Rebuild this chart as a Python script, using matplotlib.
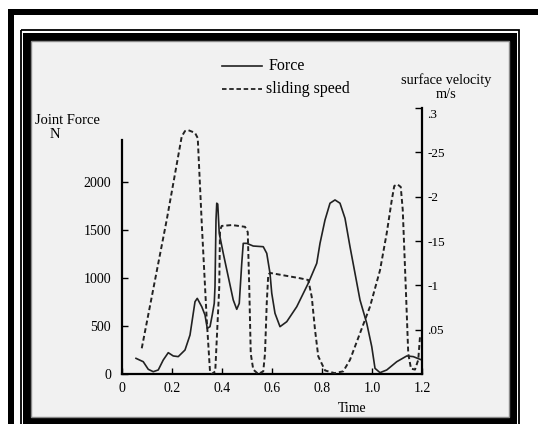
import matplotlib
matplotlib.use("Agg")
import matplotlib.pyplot as plt
import matplotlib.transforms as mtransforms
from matplotlib.patches import Rectangle

plt.rcParams['font.family'] = ['Liberation Serif', 'DejaVu Serif']

# force curve (N) vs time (s)
force_t = [0.056, 0.085, 0.105, 0.125, 0.145, 0.165, 0.185, 0.205, 0.225, 0.252,
           0.272, 0.292, 0.301, 0.319, 0.332, 0.341, 0.352, 0.361, 0.369, 0.372,
           0.376, 0.379, 0.383, 0.389, 0.405, 0.425, 0.445, 0.459, 0.469, 0.479,
           0.485, 0.499, 0.525, 0.565, 0.579, 0.592, 0.599, 0.612, 0.632, 0.659,
           0.699, 0.745, 0.779, 0.792, 0.812, 0.832, 0.852, 0.872, 0.892, 0.912,
           0.932, 0.952, 0.979, 0.999, 1.012, 1.032, 1.059, 1.099, 1.139, 1.165,
           1.199]
force_val = [163, 128, 49, 24, 42, 146, 222, 188, 181, 250,
             406, 753, 788, 701, 615, 476, 493, 615, 736, 910,
             1604, 1779, 1770, 1466, 1257, 1014, 771, 674, 736, 1153,
             1361, 1361, 1333, 1326, 1257, 1049, 841, 632, 493, 545,
             701, 945, 1153, 1361, 1604, 1779, 1813, 1779, 1622, 1326,
             1049, 771, 528, 285, 59, 14, 42, 128, 188, 181,
             146]

# sliding speed (m/s) vs time (s)
speed_t = [0.079, 0.179, 0.239, 0.252, 0.265, 0.292, 0.303, 0.319, 0.339, 0.352,
           0.360, 0.373, 0.389, 0.392, 0.399, 0.440, 0.492, 0.503, 0.509, 0.515,
           0.525, 0.545, 0.565, 0.572, 0.579, 0.585, 0.592, 0.712, 0.745, 0.759,
           0.772, 0.785, 0.812, 0.850, 0.885, 0.912, 0.952, 0.992, 1.032, 1.059,
           1.079, 1.089, 1.101, 1.115, 1.123, 1.136, 1.145, 1.156, 1.172, 1.185,
           1.192]
speed_val = [0.029, 0.174, 0.268, 0.274, 0.275, 0.272, 0.266, 0.170, 0.061, 0.003,
             0.000, 0.003, 0.098, 0.162, 0.167, 0.168, 0.166, 0.160, 0.098, 0.023,
             0.005, 0.000, 0.003, 0.023, 0.080, 0.112, 0.114, 0.108, 0.106, 0.087,
             0.050, 0.020, 0.004, 0.001, 0.003, 0.016, 0.046, 0.076, 0.117, 0.159,
             0.196, 0.212, 0.214, 0.211, 0.185, 0.091, 0.023, 0.006, 0.005, 0.016,
             0.042]

x_ticks = [0, 0.2, 0.4, 0.6, 0.8, 1.0, 1.2]
x_labels = ['0', '0.2', '0.4', '0.6', '0.8', '1.0', '1.2']
force_ticks = [0, 500, 1000, 1500, 2000]
speed_ticks = [0.05, 0.1, 0.15, 0.2, 0.25, 0.3]
speed_labels = ['.05', '-1', '-15', '-2', '-25', '.3']

W, H = 538, 424
fig = plt.figure(figsize=(W / 100, H / 100), dpi=100)
fig.patch.set_facecolor('white')

# frame drawn in pixel coords
bg = fig.add_axes([0, 0, 1, 1], zorder=0)
bg.set_xlim(0, W)
bg.set_ylim(H, 0)
bg.axis('off')
bg.add_patch(Rectangle((8, 9), W - 8, 6, color='black', lw=0))
bg.add_patch(Rectangle((8, 9), 6, H, color='black', lw=0))
bg.add_patch(Rectangle((20.5, 30), 498.5, H, fill=False, ec='black', lw=1.3))
bg.add_patch(Rectangle((23, 33), 494, H, color='black', lw=0))
bg.add_patch(Rectangle((31, 41), 478, 376, fc='#f1f1f1', ec='#8a8a8a', lw=1.0))

# legend
bg.plot([222, 262], [66, 66], color='#222222', lw=1.2)
bg.text(269, 66, 'Force', fontsize=11.5, va='center', ha='left')
bg.plot([222, 262], [89, 89], color='#222222', lw=1.3, dashes=(2.5, 1.5))
bg.text(266, 89, 'sliding speed', fontsize=11.5, va='center', ha='left')

bg.text(67, 120, 'Joint Force', fontsize=10.5, va='center', ha='center')
bg.text(55, 134, 'N', fontsize=10.5, va='center', ha='center')
bg.text(446, 80, 'surface velocity', fontsize=10.3, va='center', ha='center')
bg.text(446, 95, 'm/s', fontsize=10.3, va='center', ha='center')
bg.text(352, 408, 'Time', fontsize=10, va='center', ha='center')

# main axes: x 122..422 px, y 374..108 px
ax = fig.add_axes([122 / W, (H - 374) / H, 300 / W, 266 / H], zorder=1)
ax.patch.set_alpha(0)
ax.set_xlim(0, 1.2)
ax.set_ylim(0, 266 * 500 / 48)
ax.plot(force_t, force_val, color='#222222', lw=1.2)

for s in ['top', 'right']:
    ax.spines[s].set_visible(False)
ax.spines['left'].set_bounds(0, 234 * 500 / 48)
ax.spines['left'].set_linewidth(1.6)
ax.spines['bottom'].set_linewidth(1.6)
ax.set_xticks(x_ticks)
ax.set_xticklabels(x_labels)
ax.set_yticks(force_ticks)
ax.tick_params(direction='in', length=4, width=1, labelsize=10, pad=6)
ax.tick_params(axis='y', pad=8)

ax2 = ax.twinx()
ax2.set_ylim(0, 0.3)
ax2.plot(speed_t, speed_val, color='#222222', lw=1.4, dashes=(2.5, 1.5))
for s in ['top', 'left', 'bottom']:
    ax2.spines[s].set_visible(False)
ax2.spines['right'].set_linewidth(1.6)
ax2.set_yticks(speed_ticks)
ax2.set_yticklabels(speed_labels)
ax2.tick_params(direction='in', length=5, width=1, labelsize=9.5, pad=4)

# the top ".3" label sits a little below its tick in the original
top_lab = ax2.get_yticklabels()[-1]
top_lab.set_transform(top_lab.get_transform() +
                      mtransforms.ScaledTranslation(0, -6 / 100, fig.dpi_scale_trans))

fig.savefig('out.png', dpi=100)
